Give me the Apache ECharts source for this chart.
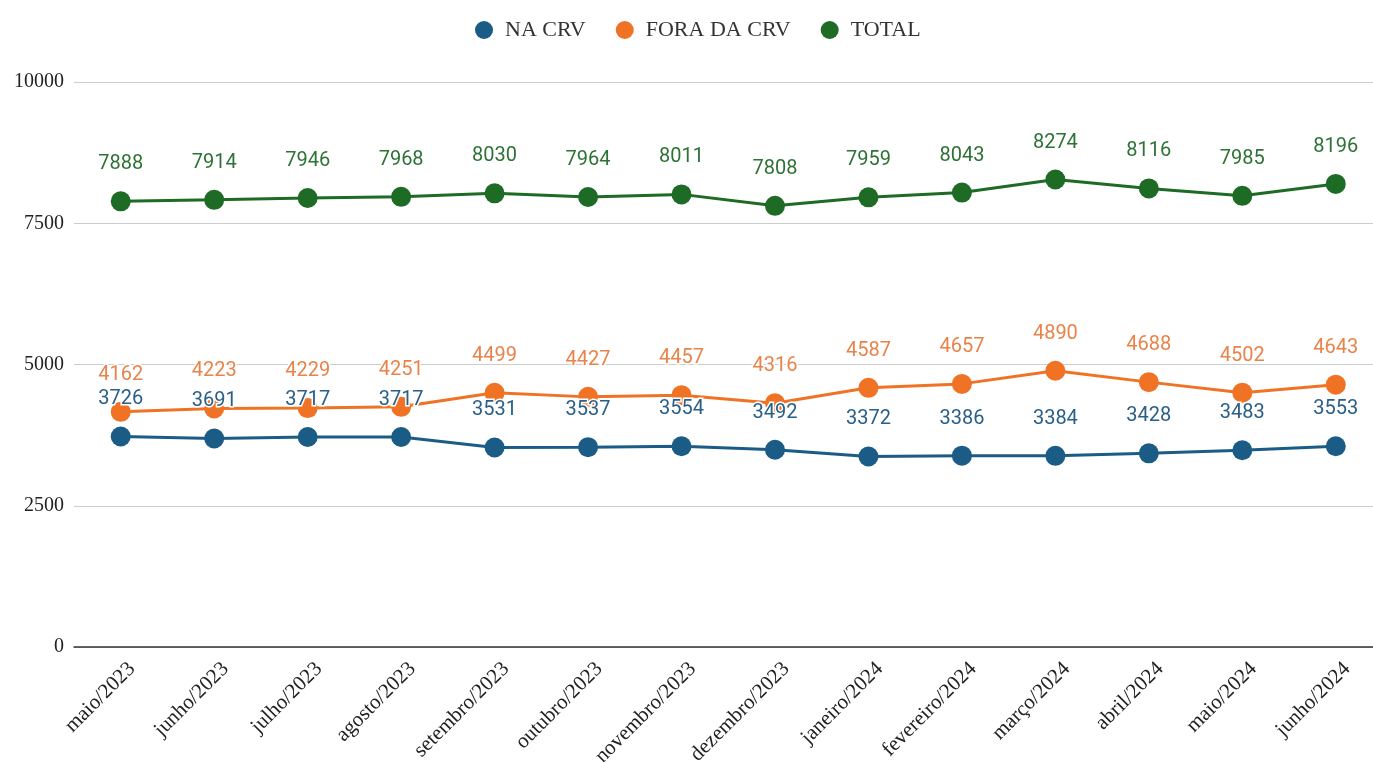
<!DOCTYPE html>
<html>
<head>
<meta charset="utf-8">
<script src="https://cdn.jsdelivr.net/npm/echarts@6/dist/echarts.min.js"></script>
<style>
html,body{margin:0;padding:0;background:#fff;}
#chart{width:1373px;height:762px;}
</style>
</head>
<body>
<div id="chart"></div>
<script>
const categories = ["maio/2023","junho/2023","julho/2023","agosto/2023","setembro/2023","outubro/2023","novembro/2023","dezembro/2023","janeiro/2024","fevereiro/2024","março/2024","abril/2024","maio/2024","junho/2024"];
const naCrv = [3726,3691,3717,3717,3531,3537,3554,3492,3372,3386,3384,3428,3483,3553];
const foraCrv = [4162,4223,4229,4251,4499,4427,4457,4316,4587,4657,4890,4688,4502,4643];
const total = [7888,7914,7946,7968,8030,7964,8011,7808,7959,8043,8274,8116,7985,8196];
const seriesNames = ["NA CRV","FORA DA CRV","TOTAL"];
const colors = ["#1b5c86","#f07325","#1d6b25"];
const labelColors = ["#2a6088","#e8834a","#2e7236"];

const chart = echarts.init(document.getElementById('chart'));
function mk(name, data, i, z){
  return {
    name: name, type: 'line', data: data, z: z,
    symbol: 'circle', symbolSize: 20,
    lineStyle: {width: 3, color: colors[i]},
    itemStyle: {color: colors[i]},
    label: {
      show: true, position: 'top', distance: 17,
      fontFamily: 'Roboto', fontSize: 20, color: labelColors[i],
      textBorderColor: '#fff', textBorderWidth: 3
    },
    emphasis: {disabled: true}
  };
}
chart.setOption({
  animation: false,
  color: colors,
  legend: {
    top: 14, left: 470,
    icon: 'circle', itemWidth: 18, itemHeight: 18, itemGap: 30,
    textStyle: {fontFamily: 'Liberation Serif', fontSize: 22, color: '#333', padding: [0,0,0,7]},
    data: seriesNames
  },
  grid: {left: 74, top: 82, bottom: 115, right: -9.5, containLabel: false, outerBoundsMode: 'none'},
  xAxis: {
    type: 'category', data: categories, boundaryGap: true,
    axisLine: {lineStyle: {color: '#333', width: 1.5}},
    axisTick: {show: false},
    axisLabel: {rotate: 45, interval: 0, margin: 30, padding: [0,-16,0,0], fontFamily: 'Liberation Serif', fontSize: 21, color: '#222'}
  },
  yAxis: {
    type: 'value', min: 0, max: 10000, interval: 2500,
    axisLine: {show: false}, axisTick: {show: false},
    splitLine: {lineStyle: {color: '#cccccc', width: 1}},
    axisLabel: {fontFamily: 'Liberation Serif', fontSize: 20, color: '#222', margin: 10, formatter: v => String(v)}
  },
  series: [
    mk(seriesNames[0], naCrv, 0, 4),
    mk(seriesNames[1], foraCrv, 1, 3),
    mk(seriesNames[2], total, 2, 2)
  ]
});
</script>
</body>
</html>
